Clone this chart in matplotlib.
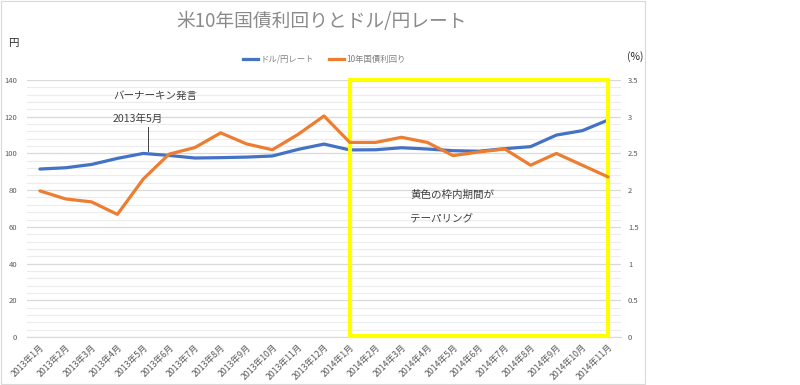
import matplotlib
matplotlib.use("Agg")
import matplotlib.pyplot as plt
from matplotlib.patches import Rectangle
from matplotlib.ticker import MultipleLocator

plt.rcParams['font.family'] = ['Noto Sans CJK JP', 'DejaVu Sans']

months = ["2013年1月", "2013年2月", "2013年3月", "2013年4月", "2013年5月", "2013年6月",
          "2013年7月", "2013年8月", "2013年9月", "2013年10月", "2013年11月", "2013年12月",
          "2014年1月", "2014年2月", "2014年3月", "2014年4月", "2014年5月", "2014年6月",
          "2014年7月", "2014年8月", "2014年9月", "2014年10月", "2014年11月"]
usdjpy = [91.5, 92.2, 94.0, 97.3, 100.0, 98.9, 97.5, 97.7, 98.0, 98.6, 102.2, 105.1,
          101.9, 102.0, 103.1, 102.4, 101.5, 101.2, 102.6, 103.7, 110.0, 112.4, 118.2]
yield10 = [1.99, 1.88, 1.84, 1.67, 2.15, 2.49, 2.58, 2.78, 2.63, 2.55, 2.76, 3.01,
           2.65, 2.65, 2.72, 2.65, 2.47, 2.52, 2.56, 2.34, 2.50, 2.34, 2.18]
taper_start, taper_end = 12, 22

W, H = 800, 385
fig = plt.figure(figsize=(W / 100, H / 100), dpi=100)

def fx(px):
    return px / W

def fy(py):
    return 1 - py / H

ax = fig.add_axes([fx(27), fy(337), fx(621) - fx(27), fy(80) - fy(337)])
ax2 = ax.twinx()

x = list(range(len(months)))
ax.set_xlim(-0.5, len(months) - 0.5)
ax.set_ylim(0, 140)
ax2.set_ylim(0, 3.5)

ax.yaxis.set_major_locator(MultipleLocator(20))
ax.yaxis.set_minor_locator(MultipleLocator(4))
ax.grid(axis='y', which='major', color='#d9d9d9', lw=0.9)
ax.grid(axis='y', which='minor', color='#ececec', lw=0.8)
ax.set_axisbelow(True)
ax2.yaxis.set_major_locator(MultipleLocator(0.5))

for a in (ax, ax2):
    for s in a.spines.values():
        s.set_visible(False)
ax.spines['bottom'].set_visible(True)
ax.spines['bottom'].set_color('#d9d9d9')

ax.plot(x, usdjpy, color='#4472C4', lw=2.3, solid_capstyle='round', zorder=3)
ax2.plot(x, yield10, color='#ED7D31', lw=2.3, solid_capstyle='round', zorder=3)

ax.set_xticks(x)
ax.set_xticklabels(months, rotation=45, ha='right', rotation_mode='anchor',
                   fontsize=6.3, color='#595959')
ax.tick_params(axis='x', length=0, pad=4)
ax.tick_params(axis='y', which='both', length=0, labelsize=5.5, labelcolor='#595959', pad=7)
ax2.tick_params(axis='y', length=0, labelsize=5.5, labelcolor='#595959', pad=5)
ax2.set_yticks([0, 0.5, 1, 1.5, 2, 2.5, 3, 3.5])
ax2.set_yticklabels(['0', '0.5', '1', '1.5', '2', '2.5', '3', '3.5'])

# yellow tapering box
rect = Rectangle((taper_start, 0.8), taper_end - taper_start, 139.2, fill=False,
                 edgecolor='#FFFF00', lw=3, zorder=5, clip_on=False)
ax.add_patch(rect)

# annotations
fig.text(fx(113), fy(96), "バーナーキン発言", fontsize=7.6, color='#404040', va='center')
fig.text(fx(113), fy(119), "2013年5月", fontsize=7.6, color='#404040', va='center')
fig.add_artist(plt.Line2D([fx(148), fx(148)], [fy(127), fy(151)], color='#404040', lw=0.7))
fig.text(fx(410), fy(195), "黄色の枠内期間が", fontsize=7.6, color='#404040', va='center')
fig.text(fx(410), fy(219), "テーパリング", fontsize=7.6, color='#404040', va='center')

# title, axis units
fig.text(fx(322), fy(22), "米10年国債利回りとドル/円レート", fontsize=13.5, color='#8a8a8a',
         ha='center', va='center')
fig.text(fx(8), fy(43), "円", fontsize=7.5, color='#262626', va='center')
fig.text(fx(627), fy(57), "(%)", fontsize=7.5, color='#262626', va='center')

# legend
h1 = plt.Line2D([], [], color='#4472C4', lw=2.3)
h2 = plt.Line2D([], [], color='#ED7D31', lw=2.3)
fig.legend([h1, h2], ["ドル/円レート", "10年国債利回り"], loc='center',
           bbox_to_anchor=(fx(324), fy(59)), ncol=2, frameon=False, fontsize=6,
           labelcolor='#808080', handlelength=1.8, handletextpad=0.3, columnspacing=1.8)

# chart area border
fig.add_artist(Rectangle((fx(1), fy(384)), fx(645) - fx(1), fy(1) - fy(384), fill=False,
                         edgecolor='#d9d9d9', lw=0.8, transform=fig.transFigure))

fig.savefig("out.png", dpi=100)
